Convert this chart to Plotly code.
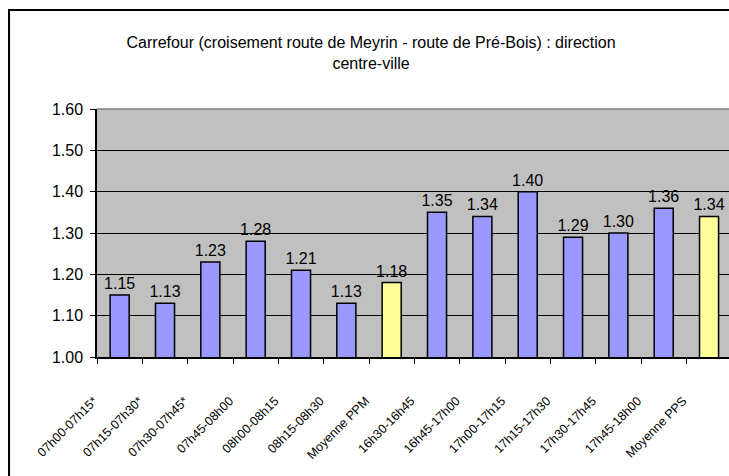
import plotly.graph_objects as go

# ──────────────────────────────────────────────
# Data
# ──────────────────────────────────────────────
periods = [
    "07h00-07h15*", "07h15-07h30*", "07h30-07h45*", "07h45-08h00",
    "08h00-08h15", "08h15-08h30", "Moyenne PPM", "16h30-16h45",
    "16h45-17h00", "17h00-17h15", "17h15-17h30", "17h30-17h45",
    "17h45-18h00", "Moyenne PPS",
]
ratios = [1.15, 1.13, 1.23, 1.28, 1.21, 1.13, 1.18,
          1.35, 1.34, 1.40, 1.29, 1.30, 1.36, 1.34]
is_average = [False, False, False, False, False, False, True,
              False, False, False, False, False, False, True]

y_ticks = [1.0, 1.1, 1.2, 1.3, 1.4, 1.5, 1.6]

BLUE = "#9999FF"
YELLOW = "#FFFF99"
FONT = "Liberation Sans, Arial, sans-serif"

colors = [YELLOW if avg else BLUE for avg in is_average]

fig = go.Figure(go.Bar(
    x=periods,
    y=ratios,
    marker=dict(color=colors, line=dict(color="black", width=1.5)),
    text=[f"{v:.2f}" for v in ratios],
    textposition="outside",
    constraintext="none",
    cliponaxis=False,
    textfont=dict(family=FONT, size=16, color="black"),
))

fig.update_layout(
    width=729,
    height=476,
    margin=dict(l=97, r=0, t=109, b=119),
    paper_bgcolor="white",
    plot_bgcolor="#C0C0C0",
    bargap=0.58,
    showlegend=False,
    font=dict(family=FONT, color="black"),
    title=dict(
        text="Carrefour (croisement route de Meyrin - route de Pré-Bois) : direction<br>centre-ville",
        x=0.509, xanchor="center", y=0.899, yanchor="top",
        font=dict(family=FONT, size=16, color="black"),
    ),
)

fig.update_xaxes(
    type="category",
    range=[-0.5, 13.44],
    tickson="boundaries",
    ticks="outside",
    ticklen=5,
    tickcolor="black",
    tickangle=-45,
    tickfont=dict(family=FONT, size=12.5),
    ticklabelshift=-26,
    ticklabelstandoff=30,
    showline=True,
    linecolor="black",
    linewidth=1.5,
    showgrid=False,
)
fig.update_yaxes(
    range=[1.0, 1.6],
    tickvals=y_ticks,
    tickformat=".2f",
    ticks="outside",
    ticklen=5,
    tickcolor="black",
    ticklabelstandoff=4,
    tickfont=dict(family=FONT, size=16),
    showline=True,
    linecolor="black",
    linewidth=1.5,
    gridcolor="black",
    gridwidth=1,
    zeroline=False,
)

# Plot-area top border (grey) and outer chart frame
fig.add_shape(type="line", xref="paper", yref="paper", x0=0, x1=1, y0=1, y1=1,
              line=dict(color="#808080", width=1.5))
fig.add_shape(type="rect", xref="paper", yref="paper",
              x0=-0.1392, x1=1.1, y0=-0.7, y1=1.399,
              line=dict(color="black", width=2), layer="above")

fig.write_html(
    "out.html",
    config={"displayModeBar": False},
    post_script="document.body.style.margin='0';document.body.style.overflow='hidden';",
)
